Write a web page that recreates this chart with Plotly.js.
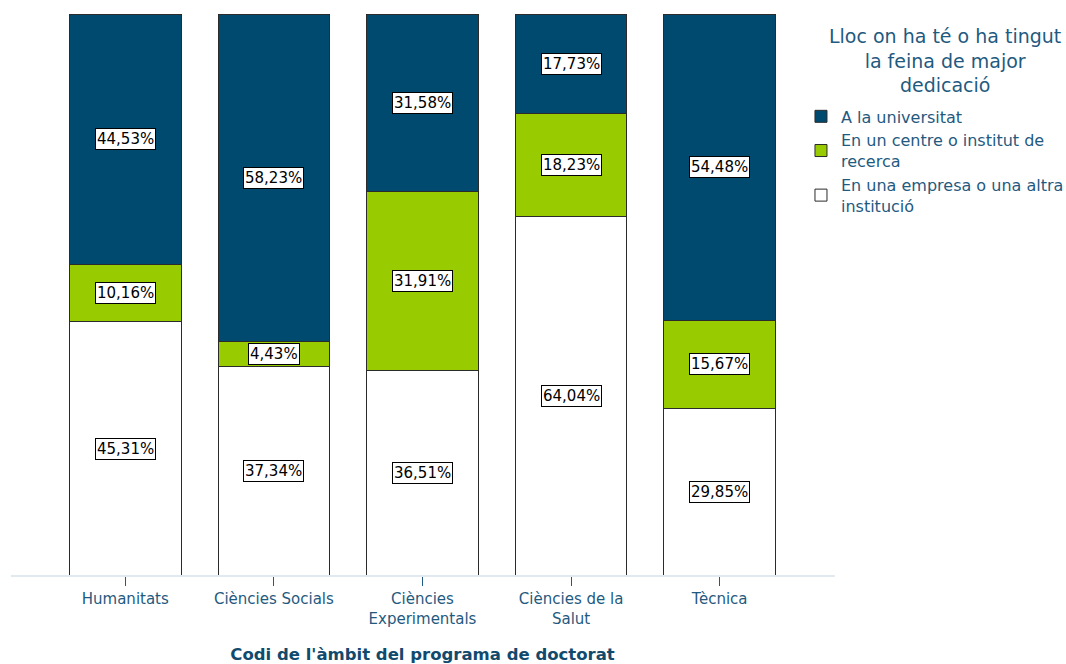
<!DOCTYPE html>
<html>
<head>
<meta charset="utf-8">
<script src="https://cdn.plot.ly/plotly-3.0.1.min.js"></script>
<style>html,body{margin:0;padding:0;background:#fff;}#chart{width:1066px;height:664px;}</style>
</head>
<body>
<div id="chart"></div>
<script>
const categories = ["Humanitats", "Ciències Socials", "Ciències Experimentals", "Ciències de la Salut", "Tècnica"];
const tickLabels = ["Humanitats", "Ciències Socials", "Ciències<br>Experimentals", "Ciències de la<br>Salut", "Tècnica"];
const seriesNames = ["En una empresa o una altra<br>institució", "En un centre o institut de<br>recerca", "A la universitat"];
const legendTitle = "Lloc on ha té o ha tingut<br>la feina de major<br>dedicació";
const axisTitle = "Codi de l'àmbit del programa de doctorat";
const empresa = [45.31, 37.34, 36.51, 64.04, 29.85];
const centre = [10.16, 4.43, 31.91, 18.23, 15.67];
const universitat = [44.53, 58.23, 31.58, 17.73, 54.48];
const colors = ["#ffffff", "#99cc00", "#004a6f"];

const series = [empresa, centre, universitat];
const textColor = "#1f5a80";
const FONT = "DejaVu Sans, Verdana, sans-serif";

const traces = series.map((vals, i) => ({
  type: "bar",
  name: seriesNames[i],
  x: categories,
  y: vals,
  marker: {color: colors[i], line: {color: "#2b2b2b", width: 1}},
  hoverinfo: "skip"
}));

const annotations = [];
categories.forEach((c, ci) => {
  let base = 0;
  series.forEach(vals => {
    const v = vals[ci];
    annotations.push({
      x: c, y: base + v / 2, xref: "x", yref: "y",
      text: v.toFixed(2).replace(".", ",") + "%",
      showarrow: false,
      font: {family: FONT, size: 15, color: "#000"},
      bgcolor: "#ffffff", bordercolor: "#000000", borderwidth: 1, borderpad: 1
    });
    base += v;
  });
});
annotations.push({
  xref: "paper", yref: "paper", x: 1.2032, y: 0.918, xanchor: "center", yanchor: "middle",
  text: legendTitle, showarrow: false, align: "center",
  font: {family: FONT, size: 19, color: textColor}
});

const layout = {
  width: 1066, height: 664,
  margin: {l: 51, r: 272, t: 14, b: 88, autoexpand: false},
  paper_bgcolor: "#fff", plot_bgcolor: "#fff",
  font: {family: FONT, color: textColor},
  barmode: "stack",
  bargap: 0.25,
  showlegend: true,
  legend: {
    x: 1.0094, y: 0.848, xanchor: "left", yanchor: "top",
    traceorder: "reversed",
    font: {family: FONT, size: 16, color: textColor},
    itemclick: false
  },
  xaxis: {
    type: "category",
    tickvals: categories, ticktext: tickLabels,
    ticks: "outside", ticklen: 9, tickcolor: textColor, tickwidth: 1,
    showline: false, showgrid: false, zeroline: false,
    tickfont: {family: FONT, size: 15, color: textColor},
    title: {text: "<b>" + axisTitle + "</b>", font: {family: FONT, size: 16.5, color: "#124a6e"}, standoff: 22}
  },
  yaxis: {range: [0, 100], visible: false, fixedrange: true},
  shapes: [{type: "line", xref: "paper", yref: "paper", x0: -0.054, x1: 1.055, y0: 0, y1: 0, line: {color: "#e3eaef", width: 2}}],
  annotations: annotations
};

Plotly.newPlot("chart", traces, layout, {displayModeBar: false, staticPlot: true});
</script>
</body>
</html>
